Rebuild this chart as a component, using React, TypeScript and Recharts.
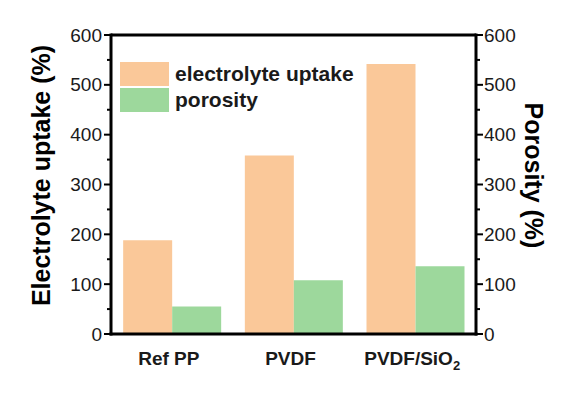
import React from "react";
import { BarChart, Bar, XAxis, YAxis, ReferenceLine } from "recharts";

const categories = ["Ref PP", "PVDF", "PVDF/SiO2"];
const electrolyteUptake = [188, 358, 542];
const porosity = [55, 108, 136];
const yTicks = [0, 50, 100, 150, 200, 250, 300, 350, 400, 450, 500, 550, 600];

const data = categories.map((name, i) => ({
  name,
  uptake: electrolyteUptake[i],
  porosity: porosity[i],
}));

const FONT = "'Liberation Sans', Arial, sans-serif";
const ORANGE = "#FAC899";
const GREEN = "#9DD89C";
const INK = "#1a1a1a";

const series = [
  { key: "uptake", name: "electrolyte uptake", color: ORANGE, axis: "left" },
  { key: "porosity", name: "porosity", color: GREEN, axis: "right" },
];

const LeftTick = (props: any) => {
  const { x, y, payload } = props;
  const major = payload.value % 100 === 0;
  return (
    <g>
      <line x1={x} x2={x - (major ? 7 : 4)} y1={y} y2={y} stroke="#000" strokeWidth={2} />
      {major && (
        <text x={x - 9} y={y} textAnchor="end" dominantBaseline="central" fontSize={19} fontFamily={FONT} fill={INK}>
          {payload.value}
        </text>
      )}
    </g>
  );
};

const RightTick = (props: any) => {
  const { x, y, payload } = props;
  const major = payload.value % 100 === 0;
  return (
    <g>
      <line x1={x} x2={x + (major ? 7 : 4)} y1={y} y2={y} stroke="#000" strokeWidth={2} />
      {major && (
        <text x={x + 8} y={y} textAnchor="start" dominantBaseline="central" fontSize={19} fontFamily={FONT} fill={INK}>
          {payload.value}
        </text>
      )}
    </g>
  );
};

const CategoryTick = (props: any) => {
  const { x, y, payload } = props;
  const label: string = payload.value;
  const sub = label.endsWith("SiO2");
  return (
    <text x={x - 3} y={y + 31} textAnchor="middle" fontSize={19} fontWeight="bold" fontFamily={FONT} fill={INK}>
      {sub ? label.slice(0, -1) : label}
      {sub && (
        <tspan fontSize={13} dy={5}>
          2
        </tspan>
      )}
    </text>
  );
};

const LegendBox = () => (
  <div style={{ position: "absolute", left: 120, top: 62, fontFamily: FONT }}>
    {series.map((s) => (
      <div key={s.key} style={{ display: "flex", alignItems: "center", height: 24, marginBottom: 2 }}>
        <div style={{ width: 49, height: 24, background: s.color }} />
        <span style={{ marginLeft: 6, fontSize: 21, fontWeight: "bold", color: INK, lineHeight: "24px" }}>
          {s.name}
        </span>
      </div>
    ))}
  </div>
);

const App = () => {
  return (
    <div style={{ position: "absolute", left: 0, top: 0, width: 576, height: 394, background: "#fff" }}>
      <BarChart
        width={576}
        height={394}
        data={data}
        margin={{ top: 35, right: 0, left: 0, bottom: 0 }}
        barCategoryGap="10%"
        barGap={0}
      >
        <XAxis
          dataKey="name"
          height={60}
          axisLine={{ stroke: "#000", strokeWidth: 3, strokeLinecap: "square" }}
          tickLine={false}
          tickSize={0}
          tickMargin={0}
          tick={<CategoryTick />}
          interval={0}
        />
        <YAxis
          yAxisId="left"
          orientation="left"
          width={111}
          domain={[0, 600]}
          ticks={yTicks}
          interval={0}
          tickSize={0}
          tickMargin={0}
          tickLine={false}
          axisLine={{ stroke: "#000", strokeWidth: 3, strokeLinecap: "square" }}
          tick={<LeftTick />}
          label={{
            content: (p: any) => {
              const vb = p.viewBox;
              const cx = vb.x + 41;
              const cy = vb.y + vb.height / 2 - 9;
              return (
                <text
                  x={cx}
                  y={cy}
                  transform={`rotate(-90 ${cx} ${cy})`}
                  textAnchor="middle"
                  dominantBaseline="central"
                  fontSize={25}
                  fontWeight="bold"
                  fontFamily={FONT}
                  fill="#000"
                >
                  Electrolyte uptake (%)
                </text>
              );
            },
          }}
        />
        <YAxis
          yAxisId="right"
          orientation="right"
          width={100}
          domain={[0, 600]}
          ticks={yTicks}
          interval={0}
          tickSize={0}
          tickMargin={0}
          tickLine={false}
          axisLine={{ stroke: "#000", strokeWidth: 3, strokeLinecap: "square" }}
          tick={<RightTick />}
          label={{
            content: (p: any) => {
              const vb = p.viewBox;
              const cx = vb.x + 58;
              const cy = vb.y + vb.height / 2 - 9;
              return (
                <text
                  x={cx}
                  y={cy}
                  transform={`rotate(90 ${cx} ${cy})`}
                  textAnchor="middle"
                  dominantBaseline="central"
                  fontSize={25}
                  fontWeight="bold"
                  fontFamily={FONT}
                  fill="#000"
                >
                  Porosity (%)
                </text>
              );
            },
          }}
        />
        {series.map((s) => (
          <Bar
            key={s.key}
            yAxisId={s.axis}
            dataKey={s.key}
            name={s.name}
            fill={s.color}
            isAnimationActive={false}
          />
        ))}
        <ReferenceLine yAxisId="left" y={600} stroke="#000" strokeWidth={3} />
      </BarChart>
      <LegendBox />
    </div>
  );
};

export default App;
